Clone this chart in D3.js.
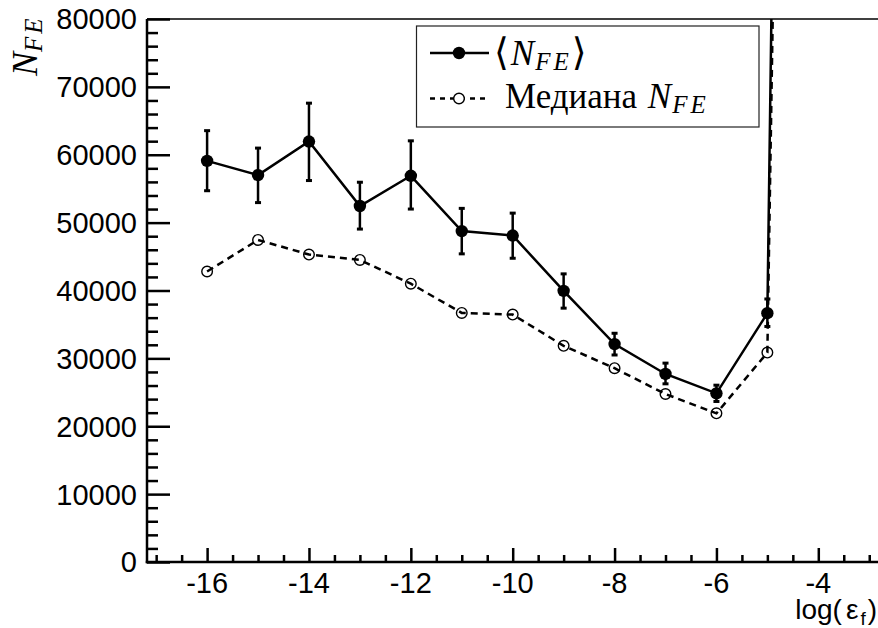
<!DOCTYPE html>
<html><head><meta charset="utf-8">
<script src="https://cdn.jsdelivr.net/npm/d3@7"></script>
<style>body{margin:0;background:#fff}</style>
</head><body>
<svg id="c" width="878" height="628" xmlns="http://www.w3.org/2000/svg"></svg>
<script>
// ---- data ----
const xVals = [-16,-15,-14,-13,-12,-11,-10,-9,-8,-7,-6,-5,-4];
const meanVals = [59100,57000,61950,52450,56900,48750,48100,39950,32100,27700,24850,36650,590000];
const errLow  = [54700,52950,56200,49050,52000,45400,44750,37400,30500,26250,23650,34700,null];
const errHigh = [63550,60980,67600,55950,62050,52100,51400,42450,33700,29300,26050,38750,null];
const medianVals = [42800,47450,45300,44500,41000,36700,36450,31850,28550,24750,21900,30850,500000];
const xTickLabels = [-16,-14,-12,-10,-8,-6,-4];
const yTickLabels = [0,10000,20000,30000,40000,50000,60000,70000,80000];
const xTitle = "log(";
const xTitleEps = "ε";
const xTitleSub = "f";
const legendMean = "N";
const legendMedian = "Медиана ";

// ---- layout ----
const svg = d3.select("#c");
const L = 147, R = 878.4, T = 19, B = 562;
const x = d3.scaleLinear().domain([-17.18, -2.82]).range([L, R]);
const y = d3.scaleLinear().domain([0, 80000]).range([B, T]);

const sans = "'Liberation Sans', Arial, Helvetica, sans-serif";
const serif = "'Liberation Serif', 'Times New Roman', serif";

// clip
svg.append("defs").append("clipPath").attr("id","clip")
  .append("rect").attr("x",L).attr("y",T).attr("width",R-L).attr("height",B-T);

// frame top line
svg.append("line").attr("x1",L).attr("x2",878).attr("y1",T).attr("y2",T)
  .attr("stroke","#000").attr("stroke-width",1.5);

// y axis (ticks inward)
const yMinor = d3.range(0, 80001, 2000);
const yAxis = d3.axisRight(y).tickValues(yMinor).tickSize(11).tickFormat("");
const gy = svg.append("g").attr("transform",`translate(${L},0)`).call(yAxis);
gy.selectAll(".tick line").attr("stroke-width",2.5)
  .attr("x2", d => (d % 10000 === 0) ? 23 : 11);
gy.select(".domain").remove();
svg.append("line").attr("x1",L).attr("x2",L).attr("y1",T).attr("y2",B+1.25)
  .attr("stroke","#000").attr("stroke-width",2.5);
svg.append("g").selectAll("text").data(yTickLabels).join("text")
  .attr("x", L-10).attr("y", d => y(d)).attr("dy","0.36em")
  .attr("text-anchor","end").attr("font-family",sans).attr("font-size",29)
  .text(d => d);

// x axis (ticks upward)
const xMinor = d3.range(-17, -2.9, 0.5);
const xAxis = d3.axisTop(x).tickValues(xMinor).tickSize(7).tickFormat("");
const gx = svg.append("g").attr("transform",`translate(0,${B})`).call(xAxis);
gx.selectAll(".tick line").attr("stroke-width",2.5)
  .attr("y2", d => (Math.abs(d % 2) === 0) ? -14 : -7);
gx.select(".domain").remove();
svg.append("line").attr("x1",L-1.25).attr("x2",878).attr("y1",B).attr("y2",B)
  .attr("stroke","#000").attr("stroke-width",2.5);
svg.append("g").selectAll("text").data(xTickLabels).join("text")
  .attr("x", d => x(d)).attr("y", 593)
  .attr("text-anchor","middle").attr("font-family",sans).attr("font-size",29)
  .text(d => d);

// x title
const xt = svg.append("text").attr("x",877).attr("y",619).attr("text-anchor","end")
  .attr("font-family",sans).attr("font-size",28);
xt.append("tspan").text(xTitle);
xt.append("tspan").attr("dx",4).text(xTitleEps);
xt.append("tspan").attr("font-size",19).attr("dx",2).attr("dy",6).text(xTitleSub);
xt.append("tspan").attr("dx",2).attr("dy",-6).text(")");

// y title (rotated)
const yt = svg.append("text").attr("transform","translate(37,76) rotate(-90)")
  .attr("font-family",serif).attr("font-style","italic").attr("font-size",36);
yt.append("tspan").text("N");
yt.append("tspan").attr("font-size",25).attr("dy",5).attr("letter-spacing",3).text("FE");

// ---- series ----
const plot = svg.append("g").attr("clip-path","url(#clip)");
const pts = xVals.map((v,i) => ({x:v, m:meanVals[i], lo:errLow[i], hi:errHigh[i], md:medianVals[i]}));
const lineM = d3.line().x(d => x(d.x)).y(d => y(d.m));
const lineMd = d3.line().x(d => x(d.x)).y(d => y(d.md));

// median dashed
plot.append("path").attr("d", lineMd(pts)).attr("fill","none")
  .attr("stroke","#000").attr("stroke-width",2.5).attr("stroke-dasharray","7,5");
plot.selectAll("circle.md").data(pts).join("circle").attr("class","md")
  .attr("cx", d => x(d.x)).attr("cy", d => y(d.md)).attr("r",5.3)
  .attr("fill","none").attr("stroke","#000").attr("stroke-width",1.4);

// mean solid + error bars
plot.append("path").attr("d", lineM(pts)).attr("fill","none")
  .attr("stroke","#000").attr("stroke-width",2.5);
const eb = pts.filter(d => d.lo !== null);
plot.selectAll("line.eb").data(eb).join("line").attr("class","eb")
  .attr("x1", d => x(d.x)).attr("x2", d => x(d.x))
  .attr("y1", d => y(d.lo)).attr("y2", d => y(d.hi))
  .attr("stroke","#000").attr("stroke-width",2.5);
plot.selectAll("rect.cl").data(eb).join("rect").attr("class","cl")
  .attr("x", d => x(d.x)-3).attr("y", d => y(d.lo)-1.5).attr("width",6).attr("height",3).attr("fill","#000");
plot.selectAll("rect.ch").data(eb).join("rect").attr("class","ch")
  .attr("x", d => x(d.x)-3).attr("y", d => y(d.hi)-1.5).attr("width",6).attr("height",3).attr("fill","#000");
plot.selectAll("circle.m").data(pts).join("circle").attr("class","m")
  .attr("cx", d => x(d.x)).attr("cy", d => y(d.m)).attr("r",6.2).attr("fill","#000");

// ---- legend ----
const lg = svg.append("g");
lg.append("rect").attr("x",416.5).attr("y",26).attr("width",342.5).attr("height",101)
  .attr("fill","#fff").attr("stroke","#222").attr("stroke-width",1.2);
lg.append("line").attr("x1",430).attr("x2",489).attr("y1",53).attr("y2",53)
  .attr("stroke","#000").attr("stroke-width",2.5);
lg.append("circle").attr("cx",459).attr("cy",53).attr("r",6.2).attr("fill","#000");
lg.append("line").attr("x1",430).attr("x2",489).attr("y1",98.5).attr("y2",98.5)
  .attr("stroke","#000").attr("stroke-width",2.5).attr("stroke-dasharray","5,5");
lg.append("circle").attr("cx",459).attr("cy",98.5).attr("r",5.3)
  .attr("fill","#fff").attr("stroke","#000").attr("stroke-width",1.4);

const t1 = lg.append("text").attr("x",494).attr("y",65).attr("font-family",serif).attr("font-size",35);
t1.append("tspan").attr("font-family","'DejaVu Serif', serif").attr("font-size",38).attr("font-weight",300).text("⟨");
t1.append("tspan").attr("font-style","italic").attr("dx",2).text(legendMean);
t1.append("tspan").attr("font-style","italic").attr("font-size",25).attr("dx",1).attr("dy",5).attr("letter-spacing",3).text("FE");
t1.append("tspan").attr("font-family","'DejaVu Serif', serif").attr("font-size",38).attr("font-weight",300).attr("dy",-5).text("⟩");

const t2 = lg.append("text").attr("x",505).attr("y",108).attr("font-family",serif).attr("font-size",35);
t2.append("tspan").text(legendMedian);
t2.append("tspan").attr("font-style","italic").attr("dx",2).text("N");
t2.append("tspan").attr("font-style","italic").attr("font-size",25).attr("dx",1).attr("dy",5).attr("letter-spacing",3).text("FE");
</script>
</body></html>
